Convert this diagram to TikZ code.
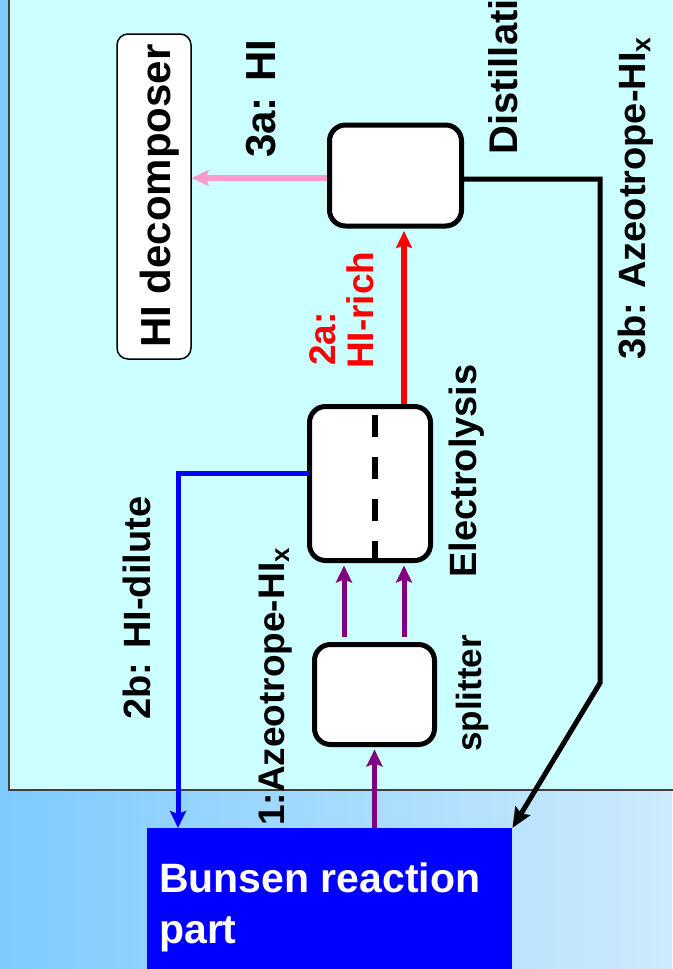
\documentclass[tikz,border=0pt]{standalone}
\usepackage{fontspec}
\setmainfont{Liberation Sans}
\usetikzlibrary{arrows.meta}
\definecolor{panelc}{RGB}{204,255,255}
\definecolor{bgl}{RGB}{125,203,255}
\definecolor{bgr}{RGB}{205,235,252}
\definecolor{pinkc}{RGB}{255,153,204}
\definecolor{purp}{RGB}{128,0,128}
\begin{document}
\begin{tikzpicture}[x=1pt,y=-1pt,
  unitbox/.style={draw=black, line width=5pt, fill=white, rounded corners=16pt, inner sep=0pt},
  lab/.style={rotate=90, anchor=base west, inner sep=0pt, font=\bfseries\fontsize{38}{44}\selectfont},
  midf/.style={font=\bfseries\fontsize{37}{44}\selectfont},
  bigf/.style={font=\bfseries\fontsize{42}{48}\selectfont},
  tip/.style={-{Stealth[length=17pt,width=16pt,inset=3pt]}},
  flow/.style={tip, line width=#1},
  buntext/.style={anchor=base west, inner sep=0pt, text=white, font=\bfseries\fontsize{41}{47}\selectfont},
]
\useasboundingbox (0,0) rectangle (672,969);
\shade[left color=bgl, right color=bgr] (0,0) rectangle (672,969);
\draw[fill=panelc, draw=black!75, line width=1.5pt] (9,-10) rectangle (690,790);

% units
\node[draw=black, line width=1.5pt, fill=white, rounded corners=11pt, inner sep=0pt,
      minimum width=74pt, minimum height=325pt] (hid) at (154,196.5) {};
\node[unitbox, minimum width=132pt, minimum height=101pt] (dist) at (395.5,175.5) {};
\node[unitbox, minimum width=121pt, minimum height=154pt] (elec) at (370,483.5) {};
\node[unitbox, minimum width=120pt, minimum height=100pt] (split) at (374.5,694.5) {};
\node[fill=blue, inner sep=0pt, minimum width=365pt, minimum height=150pt, anchor=north west] (bun) at (147,828) {};

% membrane
\draw[line width=5.5pt, dash pattern=on 22pt off 20pt] ([xshift=5pt]elec.south) -- ([xshift=5pt]elec.north);

% labels
\node[lab, bigf] (thid) at (170,348) {HI decomposer};
\node[lab, bigf] (t3a) at (275,158) {3a: HI};
\node[lab, font=\bfseries\fontsize{40}{46}\selectfont] (tdist) at (517,155) {Distillation};
\node[lab] (t3b) at (645,360) {3b: Azeotrope-HI\textsubscript{x}};
\node[lab, midf, text=red] (t2a) at (335,366) {2a:};
\node[lab, midf, text=red] (t2r) at (373,369) {HI-rich};
\node[lab] (telec) at (476,578) {Electrolysis};
\node[lab] (t2b) at (150,720) {2b: HI-dilute};
\node[lab, midf] (t1) at (284,826) {1:Azeotrope-HI\textsubscript{x}};
\node[lab, font=\bfseries\fontsize{35}{40}\selectfont] (tsplit) at (481,752) {splitter};
\node[buntext] (tb1) at (159,892) {Bunsen reaction};
\node[buntext] (tb2) at (159,943) {part};

% connectors
\coordinate (k1) at (600,683);
\draw[flow=6pt, draw=pinkc] ([yshift=-2.5pt]dist.west) -- ([yshift=-2.5pt]dist.west -| hid.east);
\draw[flow=5.5pt, draw=red, shorten >=2.5pt] ([xshift=34pt]elec.north) -- ([xshift=8.5pt]dist.south);
\draw[line width=5pt, -{Stealth[length=20pt,width=17pt,inset=3pt]}, line join=miter]
  ([yshift=-3.5pt]dist.east) -| (k1) -- (bun.north east);
\draw[flow=5pt, draw=blue, line join=miter] ([yshift=10.5pt,xshift=3pt]elec.west) -| ([xshift=31pt]bun.north west);
\draw[flow=5pt, draw=purp, shorten <=5pt, shorten >=2.5pt] ([xshift=-30.5pt]split.north) -- ([xshift=-30.5pt]split.north |- elec.south);
\draw[flow=5pt, draw=purp, shorten <=5pt, shorten >=2.5pt] ([xshift=29.5pt]split.north) -- ([xshift=29.5pt]split.north |- elec.south);
\draw[flow=5pt, draw=purp, shorten >=2.5pt] (bun.north -| split.south) -- (split.south);
\end{tikzpicture}
\end{document}
